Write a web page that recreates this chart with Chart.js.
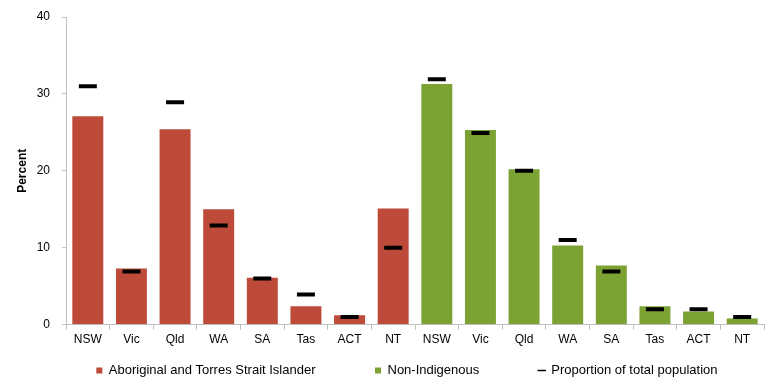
<!DOCTYPE html>
<html>
<head>
<meta charset="utf-8">
<script src="https://cdn.jsdelivr.net/npm/chart.js@4/dist/chart.umd.min.js"></script>
<style>
  html, body { margin: 0; padding: 0; background: #fff; }
  #wrap { width: 778px; height: 390px; }
</style>
</head>
<body>
<div id="wrap"><canvas id="chart" width="778" height="390"></canvas></div>
<script>
const states = ['NSW', 'Vic', 'Qld', 'WA', 'SA', 'Tas', 'ACT', 'NT'];
const indigenous    = [27.1, 7.3, 25.4, 15.0, 6.1, 2.4, 1.2, 15.1];
const nonIndigenous = [31.3, 25.3, 20.2, 10.3, 7.7, 2.4, 1.7, 0.8];
const propIndigenous    = [31.0, 6.9, 28.9, 12.9, 6.0, 3.9, 1.0, 10.0];
const propNonIndigenous = [31.9, 24.9, 20.0, 11.0, 6.9, 2.0, 2.0, 1.0];

const labels = states.concat(states);
const blanks = states.map(() => null);
const font = 'Liberation Sans, Arial, sans-serif';

// invisible spacing after legend texts (Excel leaves wide gaps between entries)
const gap = '\u2003\u2003\u2003\u2002';
const tail = '\u2003\u2003\u2002';

new Chart(document.getElementById('chart').getContext('2d'), {
  type: 'bar',
  data: {
    labels,
    datasets: [
      {
        label: 'Aboriginal and Torres Strait Islander',
        data: indigenous.concat(blanks),
        backgroundColor: '#be4b3a',
        grouped: false,
        pointStyle: 'rect',
        order: 2,
      },
      {
        label: 'Non-Indigenous',
        data: blanks.concat(nonIndigenous),
        backgroundColor: '#7ba233',
        grouped: false,
        pointStyle: 'rect',
        order: 2,
      },
      {
        label: 'Proportion of total population',
        data: propIndigenous.concat(propNonIndigenous),
        type: 'line',
        showLine: false,
        pointStyle: 'line',
        pointRadius: 9,
        pointHoverRadius: 9,
        borderColor: '#000',
        backgroundColor: '#000',
        borderWidth: 4,
        order: 1,
      },
    ],
  },
  options: {
    responsive: false,
    animation: false,
    layout: { padding: { left: 9, right: 14, top: 17, bottom: 3 } },
    datasets: { bar: { categoryPercentage: 1, barPercentage: 0.71 } },
    plugins: {
      tooltip: { enabled: false },
      legend: {
        position: 'bottom',
        align: 'end',
        labels: {
          usePointStyle: true,
          boxWidth: 6,
          boxHeight: 6,
          padding: 14,
          color: '#000',
          font: { family: font, size: 13 },
          sort: (a, b) => a.datasetIndex - b.datasetIndex,
          generateLabels(chart) {
            const items = Chart.defaults.plugins.legend.labels.generateLabels(chart);
            items.forEach(it => {
              if (it.pointStyle === 'line') it.lineWidth = 1.5;
              it.text += it.datasetIndex === 2 ? tail : gap;
            });
            return items;
          },
        },
      },
    },
    scales: {
      x: {
        grid: { display: true, drawOnChartArea: false, offset: true, tickLength: 5, color: '#bfbfbf' },
        border: { color: '#bfbfbf' },
        ticks: { color: '#000', font: { family: font, size: 12 }, padding: 3, maxRotation: 0, autoSkip: false },
      },
      y: {
        min: 0,
        max: 40,
        afterFit: scale => { scale.width = 57; scale.paddingTop = 0; },
        grid: { display: true, drawOnChartArea: false, tickLength: 4, color: '#bfbfbf' },
        border: { color: '#bfbfbf' },
        ticks: { stepSize: 10, color: '#000', font: { family: font, size: 12 }, padding: 12 },
        title: { display: true, text: 'Percent', color: '#000', font: { family: font, size: 12, weight: 'bold' }, padding: { top: 6, bottom: 4 } },
      },
    },
  },
});
</script>
</body>
</html>
